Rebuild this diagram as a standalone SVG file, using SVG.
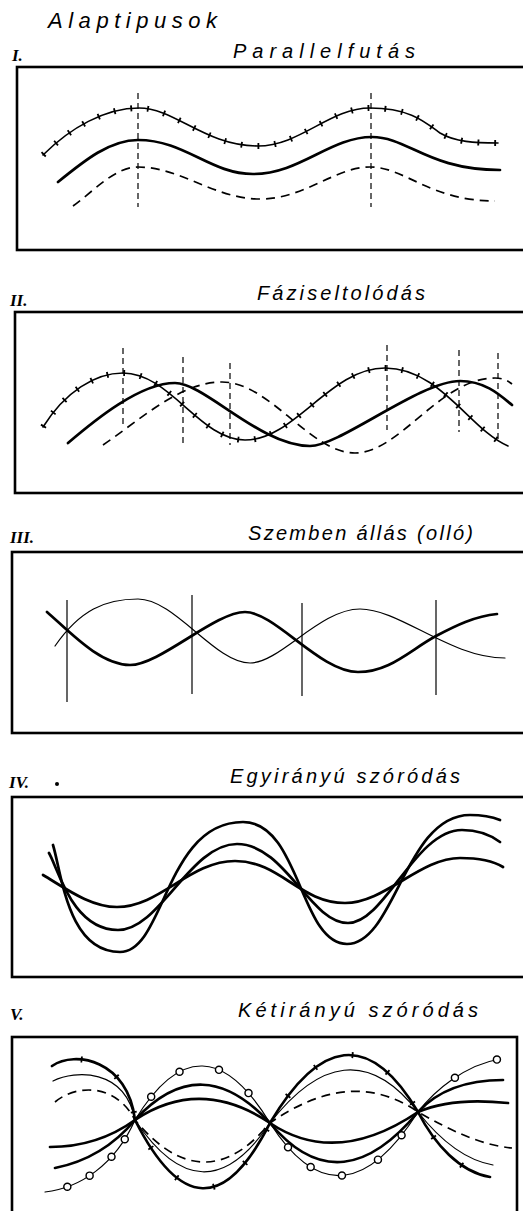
<svg xmlns="http://www.w3.org/2000/svg" xmlns:xlink="http://www.w3.org/1999/xlink" width="523" height="1211" viewBox="0 0 523 1211">
<style>
.frame{fill:none;stroke:#000;stroke-width:2.6}
.thick{fill:none;stroke:#000;stroke-width:2.7;stroke-linecap:round}
.mid{fill:none;stroke:#000;stroke-width:1.6;stroke-linecap:round}
.thin{fill:none;stroke:#000;stroke-width:1.2;stroke-linecap:round}
.dash{fill:none;stroke:#000;stroke-width:1.7;stroke-dasharray:9 6}
.vdash{fill:none;stroke:#000;stroke-width:1.2;stroke-dasharray:6 4}
.vline{fill:none;stroke:#000;stroke-width:1.2}
.ticks{fill:none;stroke:#000;stroke-width:6;stroke-dasharray:1.8 15}
.sparse{fill:none;stroke:#000;stroke-width:6;stroke-dasharray:1.8 38;stroke-dashoffset:-30}
.dotb{fill:none;stroke:#000;stroke-width:8.5;stroke-linecap:round;stroke-dasharray:0 25 0 29 0 22 0 50 0 38 0 41 0 38 0 67 0 30 0 33 0 40 0 34 0 79 0 46 0 1000;stroke-dashoffset:-23}
.dotw{fill:none;stroke:#fff;stroke-width:5.6;stroke-linecap:round;stroke-dasharray:0 25 0 29 0 22 0 50 0 38 0 41 0 38 0 67 0 30 0 33 0 40 0 34 0 79 0 46 0 1000;stroke-dashoffset:-23}
.lbl{font-family:"Liberation Sans",sans-serif;font-style:italic;font-size:20px;fill:#000}
.ttl{font-family:"Liberation Sans",sans-serif;font-style:italic;font-size:22px;fill:#000}
.num{font-family:"Liberation Serif",serif;font-style:italic;font-weight:bold;font-size:17px;fill:#000}
</style>
<defs>
<path id="p1star" d="M43,155 C70,128 105,108 139,108 C175,108 205,146 258,146 C300,146 330,108 370,108 C410,108 425,122 440,133 C455,142 475,143 498,143"/>
<path id="p2star" d="M43,427 C65,392 95,373 123,373 C170,373 200,440 245,440 C295,440 330,368 385,368 C440,368 470,430 508,446"/>
<path id="p5circ" d="M45,1192 C80,1188 115,1165 135,1120 C180,1046 225,1049 270,1123 C319,1200 369,1189 418,1112 C435,1090 465,1065 500,1059"/>
<path id="p5tick" d="M52,1066 C75,1050 128,1060 135,1120 C180,1209 225,1212 270,1123 C319,1040 369,1029 418,1112 C435,1145 460,1172 490,1177"/>
</defs>

<g id="title">
<text class="ttl" x="48" y="28" textLength="169" lengthAdjust="spacing">Alaptipusok</text>
</g>

<g id="panel-1">
<text class="num" x="12" y="61">I.</text>
<text class="lbl" x="233" y="58" textLength="182" lengthAdjust="spacing">Parallelfutás</text>
<rect class="frame" x="17" y="67" width="530" height="183"/>
<line class="vdash" x1="138" y1="93" x2="138" y2="207"/>
<line class="vdash" x1="371" y1="93" x2="371" y2="207"/>
<use xlink:href="#p1star" class="mid"/>
<use xlink:href="#p1star" class="ticks"/>
<path class="thick" d="M58,182 C85,160 110,140 138,140 C185,140 210,174 253,174 C300,174 330,137 372,137 C408,137 428,170 500,170"/>
<path class="dash" d="M73,206 C95,190 115,167 138,167 C180,167 215,199 260,199 C305,199 335,167 370,167 C405,167 430,201 495,201"/>
</g>

<g id="panel-2">
<text class="num" x="10" y="306">II.</text>
<text class="lbl" x="257" y="300" textLength="168" lengthAdjust="spacing">Fáziseltolódás</text>
<rect class="frame" x="15" y="312" width="530" height="181"/>
<line class="vdash" x1="123" y1="348" x2="123" y2="427"/>
<line class="vdash" x1="183" y1="357" x2="183" y2="443"/>
<line class="vdash" x1="230" y1="363" x2="230" y2="445"/>
<line class="vdash" x1="387" y1="345" x2="387" y2="430"/>
<line class="vdash" x1="459" y1="350" x2="459" y2="432"/>
<line class="vdash" x1="498" y1="353" x2="498" y2="442"/>
<use xlink:href="#p2star" class="mid"/>
<use xlink:href="#p2star" class="ticks"/>
<path class="thick" d="M68,443 C95,420 140,383 175,383 C205,383 260,446 310,446 C340,446 420,381 460,381 C485,381 500,395 512,405"/>
<path class="dash" d="M103,445 C140,420 180,382 222,382 C270,382 310,453 355,453 C400,453 440,378 495,378 Q505,378 512,384"/>
</g>

<g id="panel-3">
<text class="num" x="10" y="543">III.</text>
<text class="lbl" x="248" y="540" textLength="225" lengthAdjust="spacing">Szemben állás (olló)</text>
<rect class="frame" x="12" y="552" width="530" height="181"/>
<line class="vline" x1="67" y1="600" x2="67" y2="702"/>
<line class="vline" x1="192" y1="595" x2="192" y2="694"/>
<line class="vline" x1="302" y1="603" x2="302" y2="696"/>
<line class="vline" x1="436" y1="600" x2="436" y2="695"/>
<path class="thick" d="M47,612 C70,632 100,665 130,665 C160,665 215,612 245,612 C275,612 320,672 358,672 C390,672 410,650 436,636 C455,626 475,616 497,614"/>
<path class="thin" d="M55,646 C80,610 105,599 138,599 C175,599 215,663 250,663 C280,663 320,609 360,609 C400,609 450,658 505,658"/>
</g>

<g id="panel-4">
<text class="num" x="9" y="788">IV.</text>
<circle cx="57" cy="784" r="2" fill="#000"/>
<text class="lbl" x="230" y="783" textLength="230" lengthAdjust="spacing">Egyirányú szóródás</text>
<rect class="frame" x="12" y="797" width="530" height="180"/>
<path class="thick" d="M53,845 C62,875 68,952 120,952 C165,952 165,822 243,822 C300,822 300,944 347,944 C395,944 405,815 470,815 C485,815 495,818 500,820"/>
<path class="thick" d="M49,853 C58,868 72,930 118,930 C160,930 190,844 237,844 C285,844 310,923 348,923 C385,923 415,830 462,830 C480,830 492,836 500,842"/>
<path class="thick" d="M43,875 C65,888 90,907 117,907 C160,907 190,861 235,861 C280,861 300,903 345,903 C385,903 420,858 460,858 C480,858 495,862 503,867"/>
</g>

<g id="panel-5">
<text class="num" x="10" y="1020">V.</text>
<text class="lbl" x="238" y="1017" textLength="240" lengthAdjust="spacing">Kétirányú szóródás</text>
<rect class="frame" x="12" y="1037" width="505" height="200"/>
<path class="thin" d="M53,1081 C75,1070 125,1068 135,1120 C180,1187 225,1190 270,1123 C319,1060 369,1049 418,1112 C440,1140 465,1160 493,1165"/>
<path class="dash" d="M55,1102 C75,1085 115,1082 135,1120 C180,1174 225,1177 270,1123 C319,1089 369,1078 418,1112 C450,1130 480,1145 512,1148"/>
<path class="thick" d="M55,1168 C80,1163 110,1150 135,1120 C180,1071 225,1074 270,1123 C319,1182 369,1171 418,1112 C440,1088 470,1080 503,1080"/>
<path class="thick" d="M50,1147 C80,1147 110,1138 135,1120 C180,1090 225,1093 270,1123 C319,1156 369,1145 418,1112 C445,1100 480,1100 508,1103"/>
<use xlink:href="#p5tick" class="thick"/>
<use xlink:href="#p5tick" class="sparse"/>
<use xlink:href="#p5circ" class="thin"/>
<use xlink:href="#p5circ" class="dotb"/>
<use xlink:href="#p5circ" class="dotw"/>
</g>
</svg>
